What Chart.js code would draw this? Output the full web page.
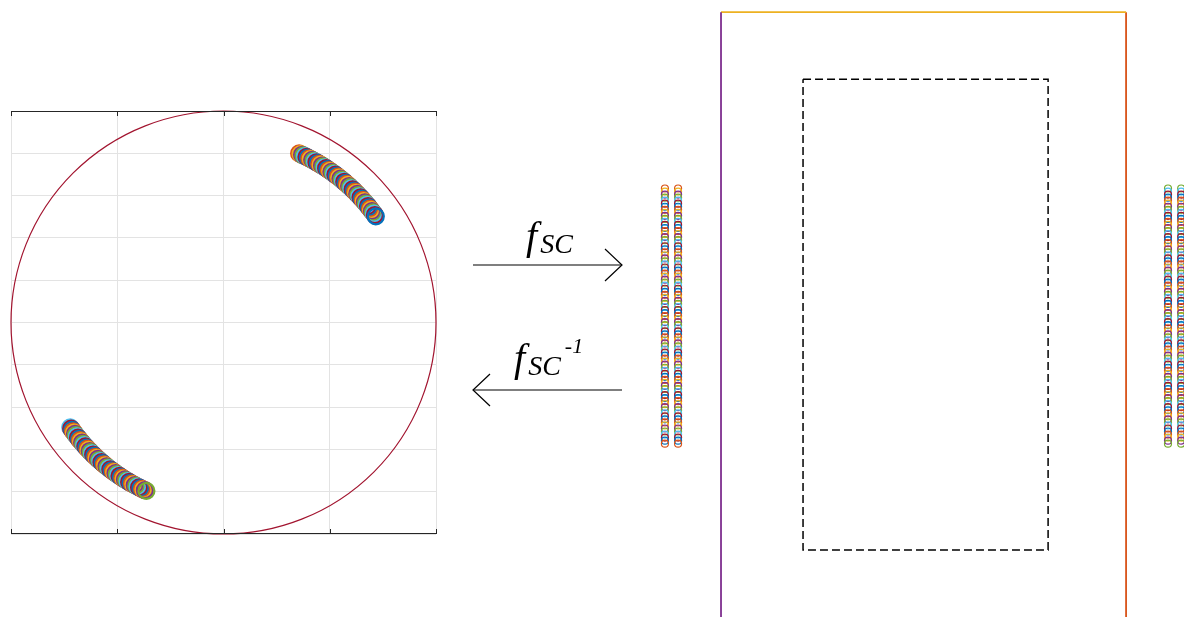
<!DOCTYPE html>
<html>
<head>
<meta charset="utf-8">
<script src="https://cdn.jsdelivr.net/npm/chart.js@4/dist/chart.umd.min.js"></script>
<style>
  html, body { margin: 0; padding: 0; background: #fff; }
  body { width: 1184px; height: 617px; position: relative; overflow: hidden; }
  .box { position: absolute; }
  .lbl { position: absolute; font-family: "Liberation Serif", serif; font-style: italic; color: #000; white-space: nowrap; }
  .lbl .f { font-size: 40px; }
  .lbl .sub { font-size: 28px; position: relative; top: 4px; margin-left: 3px; }
  .lbl .sup { font-size: 22px; position: relative; top: -18px; margin-left: 4px; }
</style>
</head>
<body>
<div class="box" style="left:0;top:100px;width:450px;height:445px"><canvas id="circleChart"></canvas></div>
<div class="box" style="left:640px;top:0;width:544px;height:617px"><canvas id="squareChart"></canvas></div>

<svg class="box" style="left:0;top:0" width="1184" height="617">
  <g stroke="#000" stroke-width="1.2" fill="none">
    <line x1="473" y1="265" x2="622" y2="265"/>
    <polyline points="605,249 622,265 605,281"/>
    <line x1="473" y1="390" x2="622" y2="390"/>
    <polyline points="490,374 473,390 490,406"/>
  </g>
</svg>
<div class="lbl" style="left:526px;top:212px"><span class="f">f</span><span class="sub">SC</span></div>
<div class="lbl" style="left:514px;top:334px"><span class="f">f</span><span class="sub">SC</span><span class="sup">-1</span></div>

<script>
// MATLAB default colour order
var colorOrder = ['#0072BD','#D95319','#EDB120','#7E2F8E','#77AC30','#4DBEEE','#A2142F'];

// disc radius and the two arcs of samples (angle in degrees)
var unitRadius = 1;
var arcRadius = 0.875;
var upperArcDeg = [66,65.5,65,64.5,64,63.5,63,62.5,62,61.5,61,60.5,60,59.5,59,58.5,58,57.5,57,56.5,
                   56,55.5,55,54.5,54,53.5,53,52.5,52,51.5,51,50.5,50,49.5,49,48.5,48,47.5,47,46.5,
                   46,45.5,45,44.5,44,43.5,43,42.5,42,41.5,41,40.5,40,39.5,39,38.5,38,37.5,37,36.5,36,35.5,35];
var lowerArcDeg = [214.5,215,215.5,216,216.5,217,217.5,218,218.5,219,219.5,220,220.5,221,221.5,222,222.5,223,223.5,224,
                   224.5,225,225.5,226,226.5,227,227.5,228,228.5,229,229.5,230,230.5,231,231.5,232,232.5,233,233.5,234,
                   234.5,235,235.5,236,236.5,237,237.5,238,238.5,239,239.5,240,240.5,241,241.5,242,242.5,243,243.5,244,244.5,245,245.5];

// mapped samples: four columns of points
var columnX = [-1.277, -1.212, 1.207, 1.272];
var columnY = [0.625,0.61,0.595,0.58,0.565,0.55,0.535,0.52,0.505,0.49,0.475,0.46,0.445,0.43,0.415,0.40,
               0.385,0.37,0.355,0.34,0.325,0.31,0.295,0.28,0.265,0.25,0.235,0.22,0.205,0.19,0.175,0.16,
               0.145,0.13,0.115,0.10,0.085,0.07,0.055,0.04,0.025,0.01,-0.005,-0.02,-0.035,-0.05,-0.065,-0.08,
               -0.095,-0.11,-0.125,-0.14,-0.155,-0.17,-0.185,-0.20,-0.215,-0.23,-0.245,-0.26,-0.275,-0.29,-0.305,-0.32,
               -0.335,-0.35,-0.365,-0.38,-0.395,-0.41,-0.425,-0.44,-0.455,-0.47,-0.485,-0.50,-0.515,-0.53,-0.545,-0.56,
               -0.575,-0.59,-0.605,-0.62,-0.635];
var columnColorStart = [1, 1, 4, 4];

// square domain edges and the inner dashed box
var outerLeft = -1, outerRight = 1, outerTop = 1.496, outerBottom = -1.6;
var innerBox = {left: -0.595, right: 0.615, top: 1.165, bottom: -1.16};

function arcPoints(degs) {
  return degs.map(function (d) {
    var a = d * Math.PI / 180;
    return {x: arcRadius * Math.cos(a), y: arcRadius * Math.sin(a)};
  });
}
function cycleColors(n, start) {
  var c = [];
  for (var i = 0; i < n; i++) c.push(colorOrder[(start + i) % colorOrder.length]);
  return c;
}

var circlePlugin = {
  id: 'circleFrame',
  beforeDatasetsDraw: function (chart) {
    var c = chart.ctx, xs = chart.scales.x, ys = chart.scales.y, area = chart.chartArea;
    var cx = xs.getPixelForValue(0), cy = ys.getPixelForValue(0);
    var rx = xs.getPixelForValue(unitRadius) - cx, ry = cy - ys.getPixelForValue(unitRadius);
    c.save();
    c.strokeStyle = '#A2142F';
    c.lineWidth = 1.2;
    c.beginPath();
    c.ellipse(cx, cy, rx, ry, 0, 0, Math.PI * 2);
    c.stroke();
    // top and bottom axis lines with inward ticks
    c.strokeStyle = '#262626';
    c.lineWidth = 1;
    c.beginPath();
    c.moveTo(area.left, area.top + 0.5); c.lineTo(area.right, area.top + 0.5);
    c.moveTo(area.left, area.bottom - 0.5); c.lineTo(area.right, area.bottom - 0.5);
    xs.ticks.forEach(function (t) {
      var px = Math.round(xs.getPixelForValue(t.value)) + 0.5;
      c.moveTo(px, area.top); c.lineTo(px, area.top + 5);
      c.moveTo(px, area.bottom); c.lineTo(px, area.bottom - 5);
    });
    c.stroke();
    c.restore();
  }
};

var upper = arcPoints(upperArcDeg), lower = arcPoints(lowerArcDeg);
new Chart(document.getElementById('circleChart'), {
  type: 'scatter',
  data: {
    datasets: [
      {data: upper, pointRadius: 8, pointBorderWidth: 2.2, pointBackgroundColor: 'rgba(0,0,0,0)',
       pointBorderColor: cycleColors(upper.length, 1)},
      {data: lower, pointRadius: 8, pointBorderWidth: 2.2, pointBackgroundColor: 'rgba(0,0,0,0)',
       pointBorderColor: cycleColors(lower.length, 5)}
    ]
  },
  options: {
    responsive: true, maintainAspectRatio: false, animation: false,
    layout: {autoPadding: false, padding: {left: 11, top: 11, right: 14, bottom: 11}},
    plugins: {legend: {display: false}, tooltip: {enabled: false}},
    scales: {
      x: {type: 'linear', min: -1, max: 1, ticks: {display: false, stepSize: 0.5},
          grid: {color: '#e3e3e3', drawTicks: false}, border: {display: false}},
      y: {type: 'linear', min: -1, max: 1, ticks: {display: false, stepSize: 0.2},
          grid: {color: '#e3e3e3', drawTicks: false}, border: {display: false}}
    }
  },
  plugins: [circlePlugin]
});

var sqSets = [];
sqSets.push({data: [{x: outerLeft, y: outerBottom}, {x: outerLeft, y: outerTop}], showLine: true,
             borderColor: '#7E2F8E', borderWidth: 1.8, pointRadius: 0});
sqSets.push({data: [{x: outerLeft, y: outerTop}, {x: outerRight, y: outerTop}], showLine: true,
             borderColor: '#EDB120', borderWidth: 1.8, pointRadius: 0});
sqSets.push({data: [{x: outerRight, y: outerTop}, {x: outerRight, y: outerBottom}], showLine: true,
             borderColor: '#D95319', borderWidth: 1.8, pointRadius: 0});
sqSets.push({data: [{x: innerBox.left, y: innerBox.top}, {x: innerBox.right, y: innerBox.top},
                    {x: innerBox.right, y: innerBox.bottom}, {x: innerBox.left, y: innerBox.bottom},
                    {x: innerBox.left, y: innerBox.top}], showLine: true,
             borderColor: '#000', borderWidth: 1.5, borderDash: [8, 4], pointRadius: 0});
columnX.forEach(function (cx, k) {
  sqSets.push({
    data: columnY.map(function (y) { return {x: cx, y: y}; }),
    pointRadius: 3.5, pointBorderWidth: 1.2, pointBackgroundColor: 'rgba(0,0,0,0)',
    pointBorderColor: cycleColors(columnY.length, columnColorStart[k])
  });
});

new Chart(document.getElementById('squareChart'), {
  type: 'scatter',
  data: {datasets: sqSets},
  options: {
    responsive: true, maintainAspectRatio: false, animation: false,
    layout: {autoPadding: false, padding: 0},
    plugins: {legend: {display: false}, tooltip: {enabled: false}},
    scales: {
      x: {type: 'linear', display: false, min: -1.4, max: 1.286},
      y: {type: 'linear', display: false, min: -1.491, max: 1.556}
    }
  }
});
</script>
</body>
</html>
